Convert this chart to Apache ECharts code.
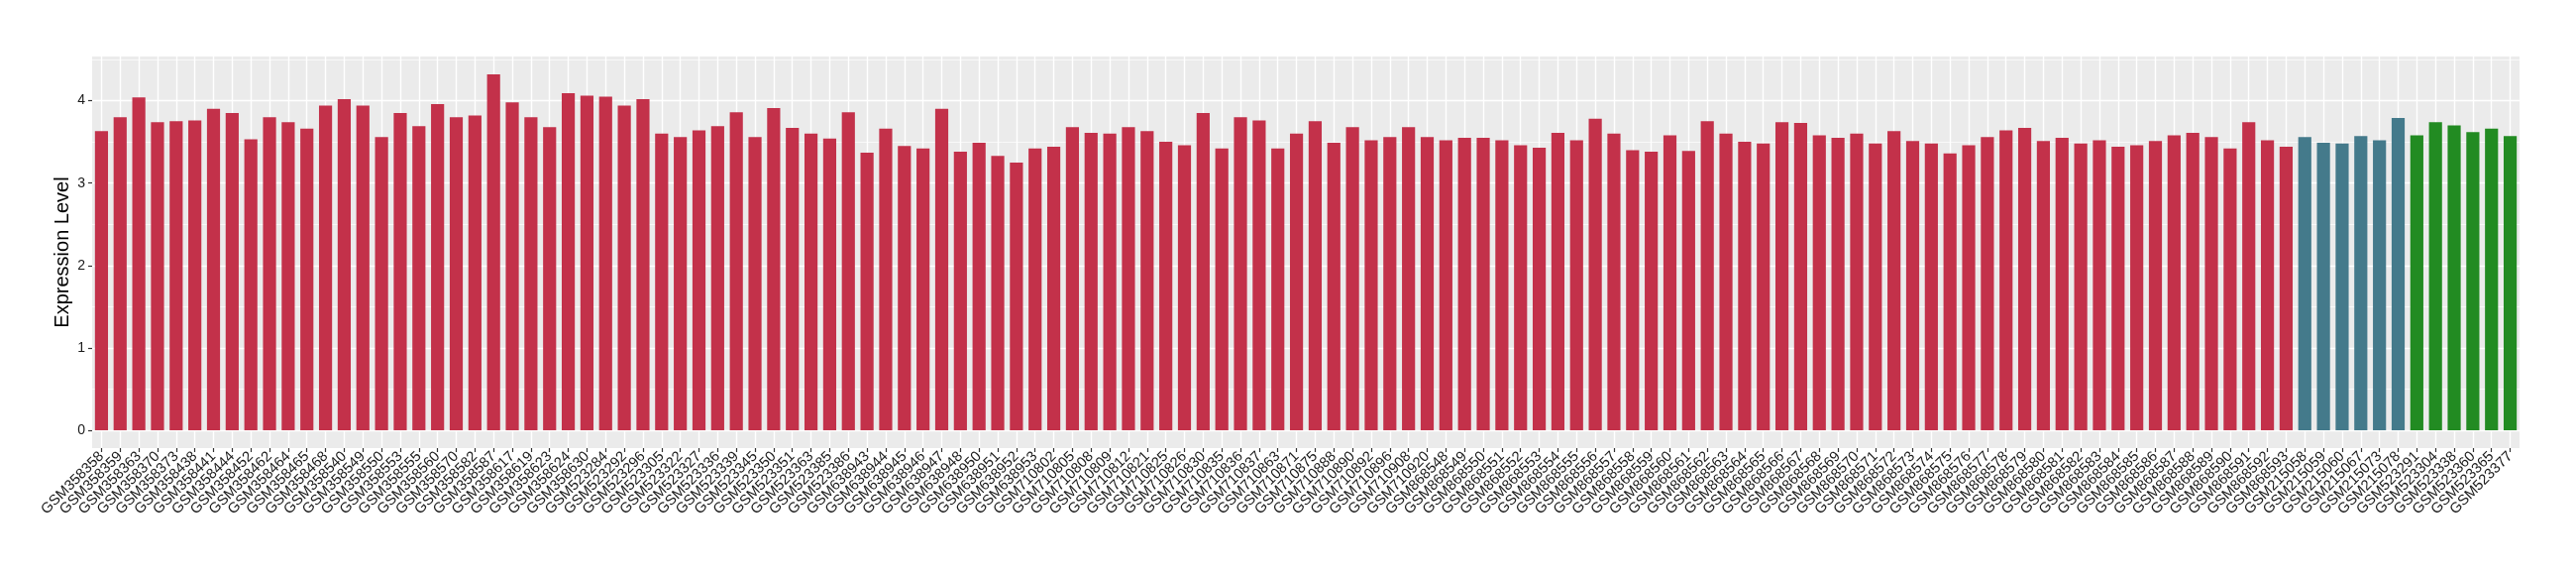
<!DOCTYPE html>
<html>
<head>
<meta charset="utf-8">
<script src="https://cdn.jsdelivr.net/npm/echarts@6/dist/echarts.min.js"></script>
<style>
html,body{margin:0;padding:0;background:#fff;}
#chart{width:2600px;height:580px;}
</style>
</head>
<body>
<div id="chart"></div>
<script>
// ---- data ----
const redSamples = [
  'GSM358358','GSM358359','GSM358363','GSM358370','GSM358373','GSM358438','GSM358441','GSM358444','GSM358452','GSM358462',
  'GSM358464','GSM358465','GSM358468','GSM358540','GSM358549','GSM358550','GSM358553','GSM358555','GSM358560','GSM358570',
  'GSM358582','GSM358587','GSM358617','GSM358619','GSM358623','GSM358624','GSM358630',
  'GSM523284','GSM523292','GSM523296','GSM523305','GSM523322','GSM523327','GSM523336','GSM523339','GSM523345','GSM523350',
  'GSM523351','GSM523363','GSM523385','GSM523386',
  'GSM638943','GSM638944','GSM638945','GSM638946','GSM638947','GSM638948','GSM638950','GSM638951','GSM638952','GSM638953',
  'GSM710802','GSM710805','GSM710808','GSM710809','GSM710812','GSM710821','GSM710825','GSM710826','GSM710830','GSM710835',
  'GSM710836','GSM710837','GSM710863','GSM710871','GSM710875','GSM710888','GSM710890','GSM710892','GSM710896','GSM710908',
  'GSM710920',
  'GSM868548','GSM868549','GSM868550','GSM868551','GSM868552','GSM868553','GSM868554','GSM868555','GSM868556','GSM868557',
  'GSM868558','GSM868559','GSM868560','GSM868561','GSM868562','GSM868563','GSM868564','GSM868565','GSM868566','GSM868567',
  'GSM868568','GSM868569','GSM868570','GSM868571','GSM868572','GSM868573','GSM868574','GSM868575','GSM868576','GSM868577',
  'GSM868578','GSM868579','GSM868580','GSM868581','GSM868582','GSM868583','GSM868584','GSM868585','GSM868586','GSM868587',
  'GSM868588','GSM868589','GSM868590','GSM868591','GSM868592','GSM868593'
];
const redValues = [
  3.63,3.80,4.04,3.74,3.75,3.76,3.90,3.85,3.53,3.80,3.74,3.66,3.94,4.02,3.94,3.56,3.85,3.69,3.96,3.80,3.82,4.32,3.98,3.80,3.68,4.09,
  4.06,4.05,3.94,4.02,3.60,3.56,3.64,3.69,3.86,3.56,3.91,3.67,3.60,3.54,3.86,3.37,3.66,3.45,3.42,3.90,3.38,3.49,3.33,3.25,3.42,3.44,
  3.68,3.61,3.60,3.68,3.63,3.50,3.46,3.85,3.42,3.80,3.76,3.42,3.60,3.75,3.49,3.68,3.52,3.56,3.68,3.56,3.52,3.55,3.55,3.52,3.46,3.43,
  3.61,3.52,3.78,3.60,3.40,3.38,3.58,3.39,3.75,3.60,3.50,3.48,3.74,3.73,3.58,3.55,3.60,3.48,3.63,3.51,3.48,3.36,3.46,3.56,3.64,3.67,
  3.51,3.55,3.48,3.52,3.44,3.46,3.51,3.58,3.61,3.56,3.42,3.74,3.52,3.44
];
const blueSamples = ['GSM215058','GSM215059','GSM215060','GSM215067','GSM215073','GSM215078'];
const blueValues = [3.56,3.49,3.48,3.57,3.52,3.79];
const greenSamples = ['GSM523291','GSM523304','GSM523338','GSM523360','GSM523365','GSM523377'];
const greenValues = [3.58,3.74,3.70,3.62,3.66,3.57];
const yTickValues = [0,1,2,3,4];
const yMinorValues = [0.5,1.5,2.5,3.5,4.5];

const groupColors = ['#C3314A','#447A8B','#228B22'];

// ---- build ----
const groups = [
  {names: redSamples, values: redValues, color: groupColors[0]},
  {names: blueSamples, values: blueValues, color: groupColors[1]},
  {names: greenSamples, values: greenValues, color: groupColors[2]}
];
const categories = [];
const barData = [];
groups.forEach(g => {
  g.names.forEach((n, i) => {
    categories.push(n);
    barData.push({value: g.values[i], itemStyle: {color: g.color}});
  });
});
const allVals = barData.map(d => d.value);
const dataMax = Math.max(...allVals);
const pad = dataMax * 0.05;

const gridLines = [];
yTickValues.forEach(v => gridLines.push({yAxis: v, lineStyle: {color: '#ffffff', width: 1.4, type: 'solid'}}));
yMinorValues.forEach(v => gridLines.push({yAxis: v, lineStyle: {color: '#ffffff', width: 0.7, type: 'solid'}}));
categories.forEach(c => gridLines.push({xAxis: c, lineStyle: {color: '#ffffff', width: 1.4, type: 'solid'}}));

const chart = echarts.init(document.getElementById('chart'), null, {renderer: 'canvas'});
chart.setOption({
  animation: false,
  backgroundColor: '#ffffff',
  grid: {
    left: 93, right: 57, top: 57, bottom: 128,
    show: true, backgroundColor: '#EBEBEB', borderWidth: 0
  },
  xAxis: {
    type: 'category',
    data: categories,
    axisLine: {show: false, onZero: false},
    axisTick: {show: true, alignWithLabel: true, interval: 0, length: 4, lineStyle: {color: '#333333', width: 1.2}},
    axisLabel: {
      interval: 0, rotate: 45, margin: 6,
      fontFamily: 'Liberation Sans', fontSize: 14.7, color: '#1a1a1a'
    },
    splitLine: {show: false}
  },
  yAxis: {
    type: 'value',
    min: -pad,
    max: dataMax + pad,
    name: 'Expression Level',
    nameLocation: 'middle',
    nameRotate: 90,
    nameGap: 20,
    nameMoveOverlap: false,
    nameTextStyle: {fontFamily: 'Liberation Sans', fontSize: 20, color: '#000000'},
    axisLine: {show: false},
    axisTick: {show: true, length: 4, customValues: yTickValues, lineStyle: {color: '#333333', width: 1.2}},
    axisLabel: {
      customValues: yTickValues, margin: 7,
      fontFamily: 'Liberation Sans', fontSize: 14, color: '#1a1a1a'
    },
    splitLine: {show: false},
    minorSplitLine: {show: false}
  },
  series: [{
    type: 'bar',
    data: barData,
    barWidth: '70%',
    z: 3,
    markLine: {
      silent: true,
      symbol: ['none', 'none'],
      label: {show: false},
      z: 1,
      animation: false,
      emphasis: {disabled: true},
      data: gridLines
    }
  }]
});
</script>
</body>
</html>
